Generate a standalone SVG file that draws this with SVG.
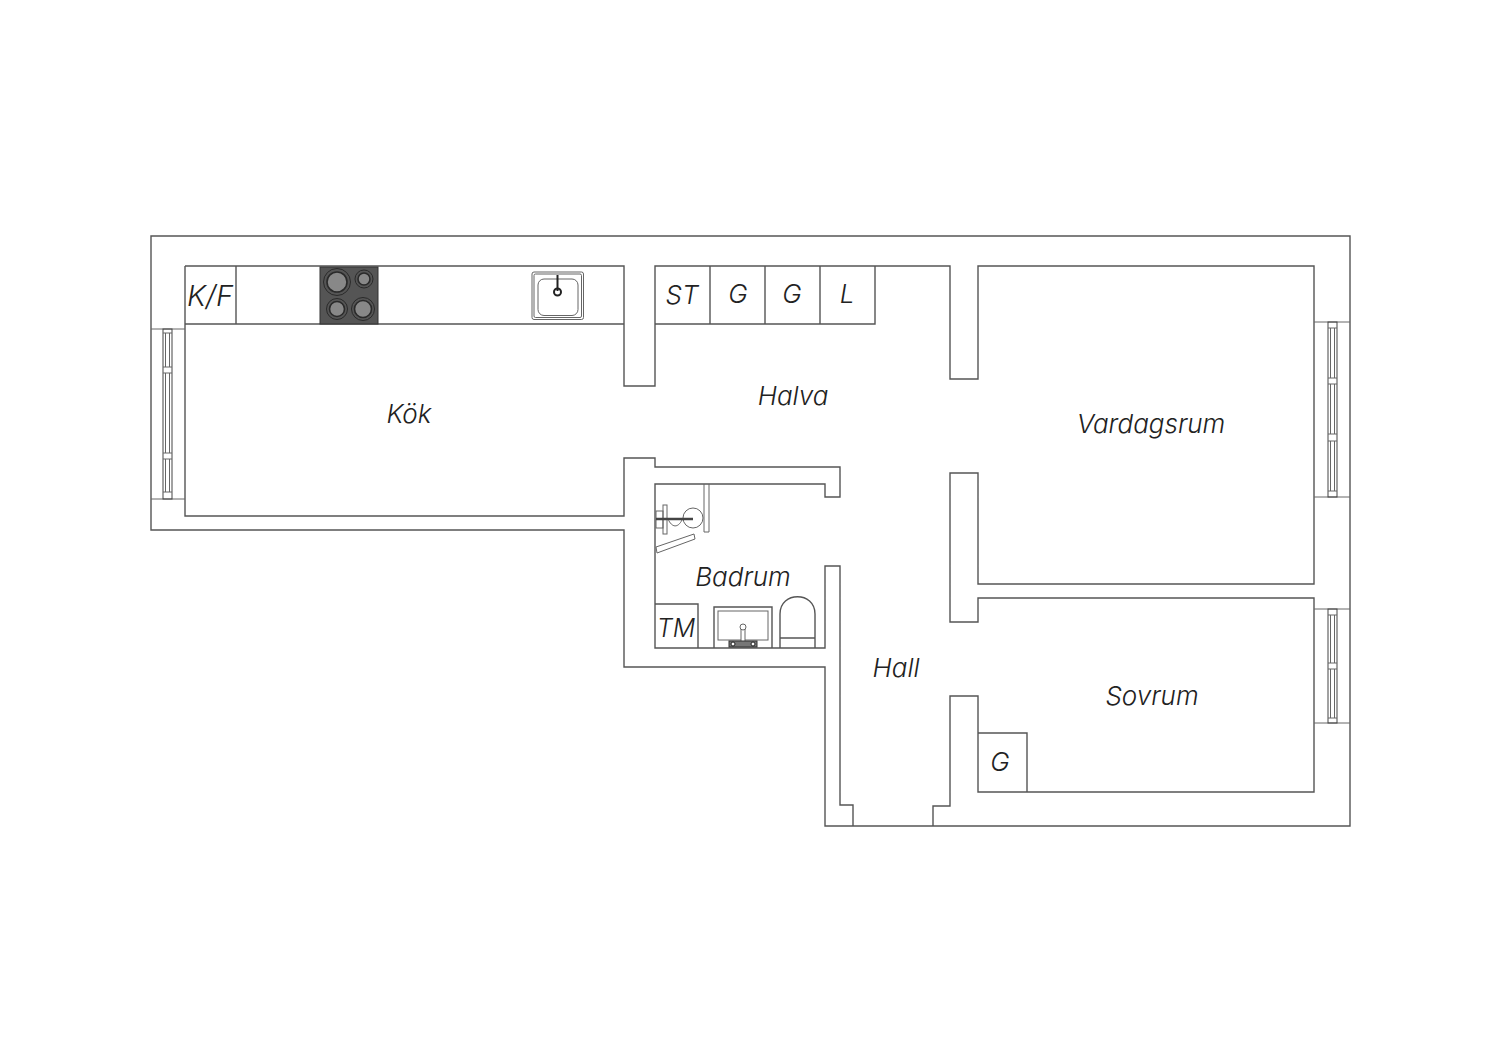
<svg xmlns="http://www.w3.org/2000/svg" width="1500" height="1060" viewBox="0 0 1500 1060">
<style>
.w{fill:none;stroke:#555;stroke-width:1.4}
.t{fill:none;stroke:#666;stroke-width:1}
text{font-family:"Inter","Lato","Liberation Sans",sans-serif;font-style:italic;font-weight:300;fill:#222;font-size:26px;text-anchor:middle}
</style>
<rect width="1500" height="1060" fill="#fff"/>
<g id="walls" class="w">
<path d="M151 236H1350V826H825V667H624V530H151Z"/>
<path d="M185 266H624V386H655V266H950V379H978V266H1314V584H978V473H950V622H978V598H1314V792H978V696H950V806H933V826M853 826V805H840V566H825V648H655V484H825V497H840V467H655V458H624V516H185V266"/>
</g>
<g id="window-kok" class="t">
<path d="M151 329H185M151 499H185"/>
<rect x="163" y="329" width="9" height="170" stroke="#444"/>
<path d="M165.500 333V367M169.500 333V367M165.500 373V453M169.500 373V453M165.500 459V492M169.500 459V492M163 333H172M163 367H172M163 373H172M163 453H172M163 459H172M163 492H172"/>
</g>
<g id="window-vardagsrum" class="t">
<path d="M1314 322H1350M1314 497H1350"/>
<rect x="1328" y="322" width="9" height="175" stroke="#444"/>
<path d="M1330.500 328V378M1334.500 328V378M1330.500 384V434M1334.500 384V434M1330.500 441V491M1334.500 441V491M1328 328H1337M1328 378H1337M1328 384H1337M1328 434H1337M1328 441H1337M1328 491H1337"/>
</g>
<g id="window-sovrum" class="t">
<path d="M1314 609H1350M1314 723H1350"/>
<rect x="1328" y="609" width="9" height="114" stroke="#444"/>
<path d="M1330.500 615V663M1334.500 615V663M1330.500 669V718M1334.500 669V718M1328 615H1337M1328 663H1337M1328 669H1337M1328 718H1337"/>
</g>
<g id="kitchen-counter" class="w">
<path d="M185 324H624M236 266V324M655 324H875V266M710 266V324M765 266V324M820 266V324"/>
</g>
<g id="stove">
<rect x="320" y="267" width="58" height="57" fill="#555" stroke="#333"/>
<g fill="#888" stroke="#2a2a2a" stroke-width="1.600">
<circle cx="337" cy="282" r="10"/>
<circle cx="364" cy="279" r="6"/>
<circle cx="337" cy="309" r="7.500"/>
<circle cx="363" cy="309" r="8.500"/>
</g>
<g fill="none" stroke="#2a2a2a">
<circle cx="337" cy="282" r="13.500"/>
<circle cx="364" cy="279" r="9"/>
<circle cx="337" cy="309" r="10.500"/>
<circle cx="363" cy="309" r="11.500"/>
</g>
</g>
<g id="kitchen-sink" class="t">
<rect x="532" y="272" width="51.500" height="47.500" rx="2"/>
<rect x="534" y="274" width="47.500" height="43.500" rx="1.500"/>
<rect x="538" y="279" width="40" height="36.500" rx="6"/>
<path d="M557.500 275V291" stroke="#222" stroke-width="2"/>
<circle cx="557.500" cy="292" r="3.500" stroke="#222" stroke-width="2"/>
</g>
<g id="shower">
<g class="t">
<path d="M704 484V532H709V484"/>
<path d="M656 547L694 534L695 539L657 553Z"/>
<circle cx="693" cy="518" r="10"/>
<rect x="663" y="505" width="4" height="29"/>
<rect x="656" y="511" width="7" height="17"/>
<path d="M668 519C672 528 678 528 682 520"/>
</g>
<path d="M656 519H693" stroke="#444" stroke-width="2.500" fill="none"/>
</g>
<g id="bath-fixtures" class="w">
<path d="M655 604H698V648M714 648V607H772V648M780 648V614C780 591 815 591 815 614V648M780 638H815"/>
</g>
<g id="basin" class="t">
<rect x="718" y="611" width="50" height="29"/>
<rect x="741" y="629" width="4" height="16" fill="#fff"/>
<circle cx="743" cy="627" r="3" fill="#fff"/>
<rect x="729" y="641" width="28" height="6" fill="#777" stroke="#333"/>
<circle cx="733" cy="644" r="2" fill="#fff" stroke="#222"/>
<circle cx="753" cy="644" r="2" fill="#fff" stroke="#222"/>
</g>
<g id="closet" class="w">
<path d="M978 733H1027V792"/>
</g>
<g id="labels">
<text x="210" y="306" style="font-size:29px">K/F</text>
<text x="409" y="423">Kök</text>
<text x="682" y="304">ST</text>
<text x="738" y="303">G</text>
<text x="792" y="303">G</text>
<text x="847" y="303">L</text>
<text x="793" y="405">Halva</text>
<text x="1151" y="433">Vardagsrum</text>
<text x="743" y="586">Badrum</text>
<text x="676" y="637" style="font-size:25px">TM</text>
<text x="896" y="677">Hall</text>
<text x="1152" y="705">Sovrum</text>
<text x="1000" y="771">G</text>
</g>
</svg>
